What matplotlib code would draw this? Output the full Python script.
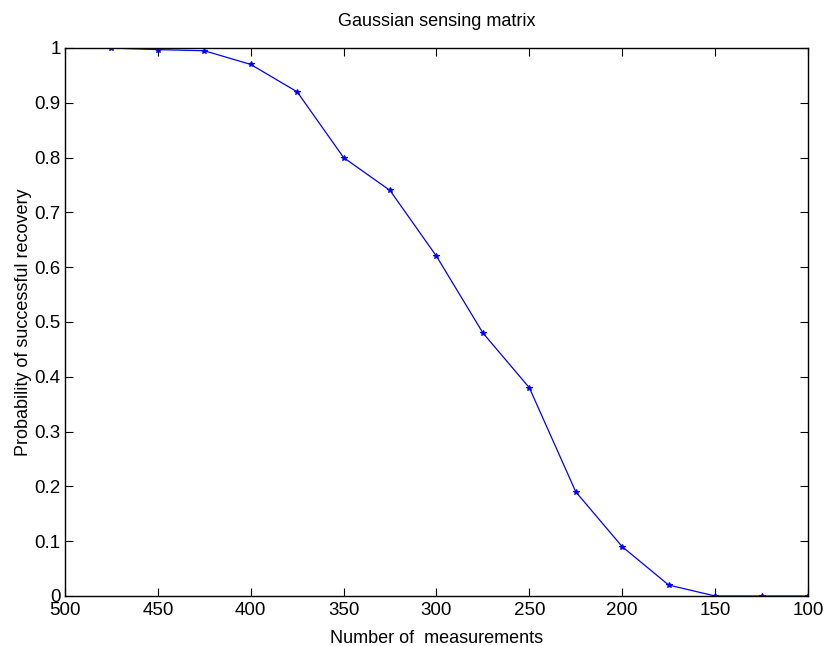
import matplotlib
matplotlib.use('Agg')
import matplotlib.pyplot as plt
import numpy as np

plt.rcParams['font.family'] = ['Liberation Sans', 'DejaVu Sans']

# number of measurements vs. empirical recovery rate
measurements = [475, 450, 425, 400, 375, 350, 325, 300, 275, 250, 225, 200, 175, 150, 125, 100]
recovery = [1.0, 0.997, 0.995, 0.970, 0.920, 0.800, 0.740, 0.620, 0.480, 0.380,
            0.190, 0.090, 0.020, 0.0, 0.0, 0.0]

xticks = [500, 450, 400, 350, 300, 250, 200, 150, 100]
yticks = np.round(np.arange(0, 1.01, 0.1), 1)
ytick_labels = ['0', '0.1', '0.2', '0.3', '0.4', '0.5', '0.6', '0.7', '0.8', '0.9', '1']

fig = plt.figure(figsize=(8.27, 6.46), dpi=100)
ax = fig.add_axes([0.0786, 0.0774, 0.8984, 0.8483])

ax.plot(measurements, recovery, color='blue', linewidth=0.9,
        marker='*', markersize=4, markeredgewidth=0.8)

ax.set_xlim(500, 100)
ax.set_ylim(0, 1)
ax.set_xticks(xticks)
ax.set_xticklabels([str(t) for t in xticks])
ax.set_yticks(yticks)
ax.set_yticklabels(ytick_labels)

ax.tick_params(direction='in', top=True, right=True, length=6, width=0.8,
               labelsize=13.5)
ax.tick_params(axis='x', pad=4)
ax.tick_params(axis='y', pad=3)
for s in ax.spines.values():
    s.set_linewidth(1.0)

ax.set_title('Gaussian sensing matrix', fontsize=13, pad=16)
ax.set_xlabel('Number of  measurements', fontsize=13, labelpad=8)
ax.set_ylabel('Probability of successful recovery', fontsize=13, labelpad=2)

fig.savefig('out.png', dpi=100)
